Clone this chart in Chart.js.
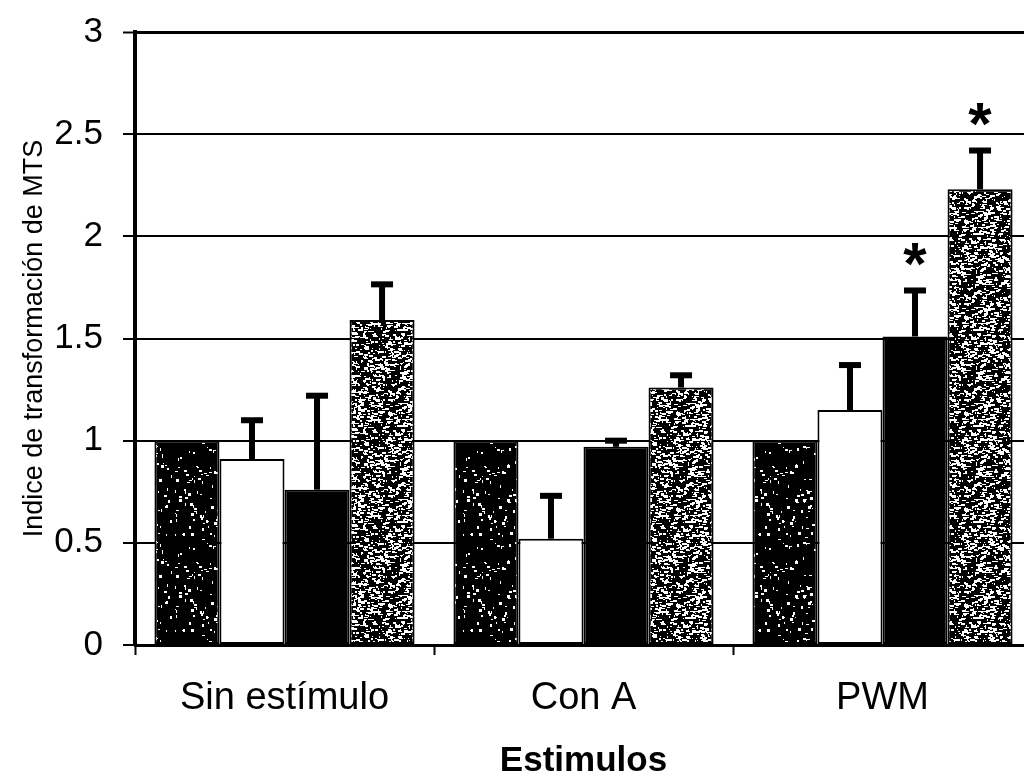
<!DOCTYPE html>
<html>
<head>
<meta charset="utf-8">
<script src="https://cdn.jsdelivr.net/npm/chart.js@4/dist/chart.umd.min.js"></script>
<style>
  html, body { margin: 0; padding: 0; background: #fff; overflow: hidden; width: 1024px; height: 779px; }
  canvas { display: block; }
</style>
</head>
<body>
<canvas id="chart" width="1040" height="779"></canvas>
<script>
// Categories and per-series values (index relative to unstimulated control = 1)
const categories = ['Sin estímulo', 'Con A', 'PWM'];
const seriesA = [1.0, 1.0, 1.0];
const seriesB = [0.91, 0.52, 1.15];
const seriesC = [0.76, 0.97, 1.51];
const seriesD = [1.59, 1.26, 2.23];

// Upper error (SEM) for each bar
const errorsA = [0, 0, 0];
const errorsB = [0.19, 0.21, 0.22];
const errorsC = [0.46, 0.03, 0.225];
const errorsD = [0.175, 0.06, 0.19];

// Significance markers drawn above the error bars
const marksA = ['', '', ''];
const marksB = ['', '', ''];
const marksC = ['', '', '*'];
const marksD = ['', '', '*'];

const yTickLabels = ['0', '0.5', '1', '1.5', '2', '2.5', '3'];

const FONT = '"Liberation Sans", Arial, Helvetica, sans-serif';

// Speckled fills that imitate the printed halftone textures
function speckle(seed, density, maxW, maxH) {
  const size = 96;
  const c = document.createElement('canvas');
  c.width = size; c.height = size;
  const g = c.getContext('2d');
  g.fillStyle = '#000';
  g.fillRect(0, 0, size, size);
  let s = seed >>> 0;
  const next = () => { s = (Math.imul(s, 1664525) + 1013904223) >>> 0; return s / 4294967296; };
  g.fillStyle = '#fff';
  const avg = ((maxW + 1) / 2) * ((maxH + 1) / 2);
  const n = Math.round(size * size * density / avg);
  for (let i = 0; i < n; i++) {
    const x = Math.floor(next() * size);
    const y = Math.floor(next() * size);
    const w = 1 + Math.floor(next() * maxW);
    const h = 1 + Math.floor(next() * maxH);
    g.fillRect(x, y, w, h);
    if (x + w > size) g.fillRect(x - size, y, w, h);
    if (y + h > size) g.fillRect(x, y - size, w, h);
  }
  return g.createPattern(c, 'repeat');
}

const fillA = speckle(7, 0.07, 3, 3);
const fillB = '#ffffff';
const fillC = '#000000';
const fillD = speckle(31, 0.42, 4, 2);

function ds(values, fill, errors, marks) {
  return {
    data: values,
    backgroundColor: fill,
    borderColor: '#000',
    borderWidth: 2,
    borderSkipped: false,
    errors: errors,
    marks: marks
  };
}

// Upper error bars and significance asterisks
const errorBars = {
  id: 'errorBars',
  afterDatasetsDraw(chart) {
    const { ctx, scales: { y } } = chart;
    ctx.save();
    chart.data.datasets.forEach((d, di) => {
      const meta = chart.getDatasetMeta(di);
      meta.data.forEach((bar, i) => {
        const err = d.errors[i];
        let topPx = bar.y;
        if (err > 0) {
          topPx = y.getPixelForValue(d.data[i] + err);
          ctx.fillStyle = '#000';
          ctx.fillRect(bar.x - 3, topPx, 6, bar.y - topPx);
          ctx.fillRect(bar.x - 11, topPx - 3, 22, 6);
        }
        const m = d.marks[i];
        if (m) {
          ctx.font = 'bold 60px ' + FONT;
          ctx.textAlign = 'center';
          ctx.textBaseline = 'alphabetic';
          const mt = ctx.measureText(m);
          const midOff = (mt.actualBoundingBoxAscent - mt.actualBoundingBoxDescent) / 2;
          const cy = topPx - 36;
          ctx.fillStyle = '#000';
          ctx.fillText(m, bar.x, cy + midOff);
        }
      });
    });
    ctx.restore();
  }
};

new Chart(document.getElementById('chart'), {
  type: 'bar',
  data: {
    labels: categories,
    datasets: [
      ds(seriesA, fillA, errorsA, marksA),
      ds(seriesB, fillB, errorsB, marksB),
      ds(seriesC, fillC, errorsC, marksC),
      ds(seriesD, fillD, errorsD, marksD)
    ]
  },
  options: {
    responsive: false,
    animation: false,
    layout: { padding: { top: 32, right: 8, left: 0, bottom: 0 } },
    plugins: { legend: { display: false }, tooltip: { enabled: false } },
    datasets: { bar: { categoryPercentage: 0.87, barPercentage: 1 } },
    scales: {
      x: {
        offset: true,
        grid: { display: true, offset: true, drawOnChartArea: false, drawTicks: true, tickLength: 10, tickWidth: 2, tickColor: '#000' },
        border: { display: true, color: '#000', width: 3 },
        ticks: { color: '#000', padding: 21, font: { family: FONT, size: 38 } },
        title: {
          display: true, text: 'Estimulos', color: '#000',
          font: { family: FONT, size: 35, weight: 'bold', lineHeight: 1 },
          padding: { top: 0, bottom: 0 }
        },
        afterFit(s) { s.height = 134; s.paddingLeft = 0; s.paddingRight = 0; }
      },
      y: {
        min: 0, max: 3,
        ticks: {
          stepSize: 0.5, color: '#000', padding: 20,
          font: { family: FONT, size: 35 },
          callback: (v, i) => yTickLabels[i]
        },
        grid: {
          color: '#000',
          lineWidth: c => (c.tick && c.tick.value === 3 ? 3 : 2),
          drawTicks: true, tickLength: 12, tickWidth: 2, tickColor: '#000'
        },
        border: { display: true, color: '#000', width: 4 },
        title: {
          display: true, text: 'Indice de transformación de MTS', color: '#000',
          font: { family: FONT, size: 27 },
          padding: { top: 18, bottom: 0 }
        },
        afterFit(s) { s.width = 135; s.paddingTop = 0; s.paddingBottom = 0; }
      }
    }
  },
  plugins: [errorBars]
});
</script>
</body>
</html>
